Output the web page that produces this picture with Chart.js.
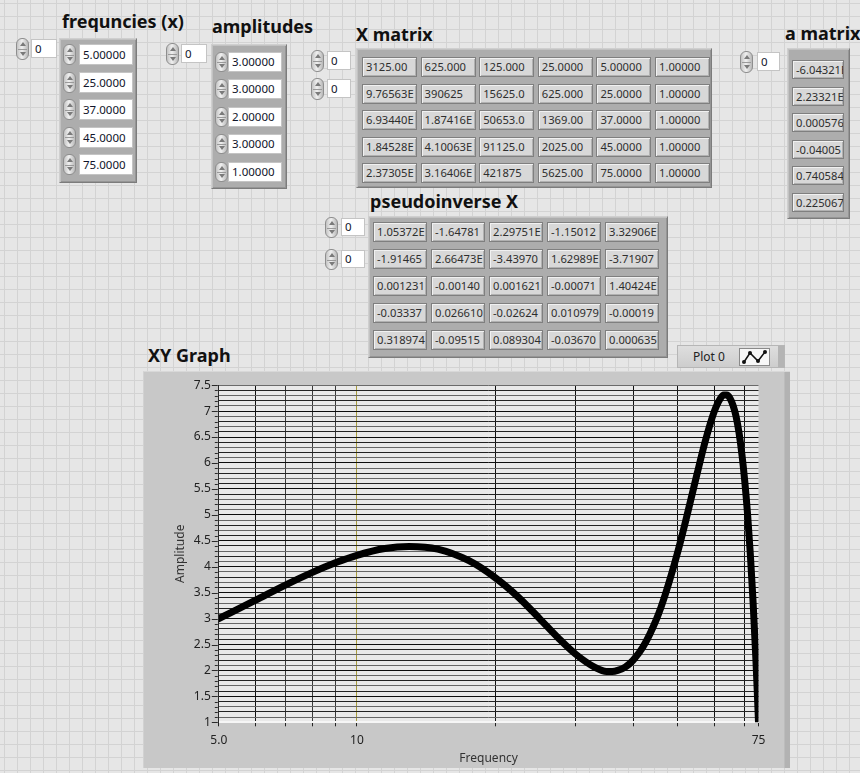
<!DOCTYPE html>
<html>
<head>
<meta charset="utf-8">
<script src="https://cdn.jsdelivr.net/npm/chart.js"></script>
<style>
  html, body { margin: 0; padding: 0; }
  body {
    width: 860px; height: 773px; position: relative; overflow: hidden;
    background-color: #e6e6e6;
    background-image:
      linear-gradient(to right, #d3d3d3 1px, transparent 1px),
      linear-gradient(to bottom, #d3d3d3 1px, transparent 1px);
    background-size: 13px 13px;
    background-position: 4px 3px;
    font-family: 'Noto Sans', sans-serif;
  }
  .lbl { position: absolute; font-weight: bold; font-size: 18px; line-height: 18px; color: #111; white-space: nowrap; }
  .spin {
    position: absolute; width: 13px; box-sizing: border-box;
    border: 1px solid #8e8e8e; border-radius: 6px;
    background: linear-gradient(to right, #c4c4c4, #f0f0f0 45%, #b8b8b8);
  }
  .spin::before, .spin::after {
    content: ''; position: absolute; left: 2.5px; width: 0; height: 0;
    border-left: 3px solid transparent; border-right: 3px solid transparent;
  }
  .spin::before { top: 3px; border-bottom: 4px solid #7a7a7a; }
  .spin::after { bottom: 3px; border-top: 4px solid #7a7a7a; }
  .spin .mid { position: absolute; left: 1px; right: 1px; top: 50%; height: 1px; background: #9a9a9a; }
  .num {
    position: absolute; box-sizing: border-box; background: #fff;
    border: 1px solid #c4c4c4; font-size: 11.5px; color: #10142a;
    padding-left: 3px; white-space: nowrap; overflow: hidden;
  }
  .frame {
    position: absolute; box-sizing: border-box; background: #adadad;
    border: 1px solid; border-color: #cfcfcf #7c7c7c #7c7c7c #cfcfcf;
    box-shadow: inset 1px 1px 0 #c2c2c2, inset -1px -1px 0 #959595;
  }
  .cell {
    position: absolute; box-sizing: border-box; background: #d8d8d8;
    border: 1px solid #7f7f7f;
    box-shadow: inset 1px 1px 0 #f1f1f1, inset -1px -1px 0 #b1b1b1;
    font-size: 11.2px; color: #2e2e2e; padding-left: 3px;
    white-space: nowrap; overflow: hidden;
  }
  #graphFrame {
    position: absolute; left: 143px; top: 371px; width: 647px; height: 397px;
    box-sizing: border-box; background: #c8c8c8;
    border-top: 1px solid #d8d8d8; border-left: 1px solid #d2d2d2;
    box-shadow: inset -5px 0 0 #b2b2b2, inset -6px 0 0 #bcbcbc;
  }
  #chartBox { position: absolute; left: 143px; top: 370px; width: 647px; height: 398px; }
  #legend {
    position: absolute; left: 677px; top: 345px; width: 108px; height: 23px; box-sizing: border-box;
    background: linear-gradient(#dedede, #cdcdcd);
    border: 1px solid #b6b6b6; box-shadow: inset -6px 0 0 #b4b4b4;
  }
  #legend .txt { position: absolute; left: 15px; top: 0; line-height: 21px; font-size: 12px; color: #222; }
  #legend svg { position: absolute; left: 61px; top: 2px; }
</style>
</head>
<body>
<div id="panel"></div>
<div class="lbl" style="left:148px; top:346px;">XY Graph</div>
<div id="legend"><span class="txt">Plot 0</span>
  <svg width="31" height="18" viewBox="0 0 31 18">
    <rect x="0.5" y="0.5" width="30" height="17" fill="#f7f7f7" stroke="#8a8a8a"/>
    <polyline points="5,14 11,5 19,13 26,4" fill="none" stroke="#111" stroke-width="1.5"/>
    <circle cx="5" cy="14" r="2" fill="#111"/><circle cx="11" cy="5" r="2" fill="#111"/>
    <circle cx="19" cy="13" r="2" fill="#111"/><circle cx="26" cy="4" r="2" fill="#111"/>
  </svg>
</div>
<div id="graphFrame"></div>
<div id="chartBox"><canvas id="xy" width="647" height="398"></canvas></div>

<script>
// ---- front panel contents ----
const freqValues = ['5.00000', '25.0000', '37.0000', '45.0000', '75.0000'];
const ampValues = ['3.00000', '3.00000', '2.00000', '3.00000', '1.00000'];
const xMatrixRows = [
  ['3125.00', '625.000', '125.000', '25.0000', '5.00000', '1.00000'],
  ['9.76563E', '390625', '15625.0', '625.000', '25.0000', '1.00000'],
  ['6.93440E', '1.87416E', '50653.0', '1369.00', '37.0000', '1.00000'],
  ['1.84528E', '4.10063E', '91125.0', '2025.00', '45.0000', '1.00000'],
  ['2.37305E', '3.16406E', '421875', '5625.00', '75.0000', '1.00000']
];
const aMatrixValues = ['-6.04321E', '2.23321E', '0.000576', '-0.04005', '0.740584', '0.225067'];
const pinvRows = [
  ['1.05372E', '-1.64781', '2.29751E', '-1.15012', '3.32906E'],
  ['-1.91465', '2.66473E', '-3.43970', '1.62989E', '-3.71907'],
  ['0.001231', '-0.00140', '0.001621', '-0.00071', '1.40424E'],
  ['-0.03337', '0.026610', '-0.02624', '0.010979', '-0.00019'],
  ['0.318974', '-0.09515', '0.089304', '-0.03670', '0.000635']
];

// ---- XY graph data ----
const freqX = [5, 6, 7, 8, 9, 10, 11.5, 13, 15, 17.5, 20, 22.5, 25, 27.5, 30, 33, 35, 36, 37, 38.5,
  40, 42, 45, 47, 50, 52, 55, 57.5, 60, 62, 63, 64, 65, 66, 67, 68, 69, 70, 71, 72, 73, 74, 74.5, 75];
const ampY = [3.00, 3.35, 3.65, 3.89, 4.08, 4.22, 4.35, 4.39, 4.34, 4.12, 3.79, 3.41, 3.00, 2.62, 2.31, 2.06, 1.98, 1.98, 2.00, 2.07,
  2.20, 2.45, 3.00, 3.47, 4.28, 4.87, 5.76, 6.44, 6.98, 7.25, 7.31, 7.31, 7.25, 7.11, 6.90, 6.59, 6.17, 5.65, 5.01, 4.23, 3.31, 2.24, 1.64, 1.00];

const xGridValues = [5, 6, 7, 8, 9, 10, 20, 30, 40, 50, 60, 70, 75];
const xLabelValues = [5, 10, 75];
const xLabelTexts = ['5.0', '10', '75'];
const yLabelValues = [1, 1.5, 2, 2.5, 3, 3.5, 4, 4.5, 5, 5.5, 6, 6.5, 7, 7.5];
const yLabelTexts = ['1', '1.5', '2', '2.5', '3', '3.5', '4', '4.5', '5', '5.5', '6', '6.5', '7', '7.5'];

// ---- panel widgets ----
const panel = document.getElementById('panel');
function el(cls, x, y, w, h, text) {
  const d = document.createElement('div');
  d.className = cls;
  d.style.left = x + 'px'; d.style.top = y + 'px';
  if (w != null) d.style.width = w + 'px';
  if (h != null) { d.style.height = h + 'px'; d.style.lineHeight = (h - 2) + 'px'; }
  if (text != null) d.textContent = text;
  panel.appendChild(d);
  return d;
}
function spinner(x, y, h) {
  const s = el('spin', x, y, null, h);
  const m = document.createElement('div'); m.className = 'mid'; s.appendChild(m);
}
function label(x, y, text) { el('lbl', x, y, null, null, text); }
function indexControl(x, y, bx, bw, h) { spinner(x, y, h + 3); el('num', bx, y + 1, bw, h, '0'); }

// frequencies (x)
label(62, 12, 'frequncies (x)');
indexControl(16, 38, 31, 26, 19);
el('frame', 59, 38, 78, 145);
freqValues.forEach((v, i) => {
  spinner(63, 44 + 27.6 * i, 21);
  el('num', 79, 44 + 27.6 * i, 54, 21, v);
});

// amplitudes
label(212, 17, 'amplitudes');
indexControl(166, 43, 181, 26, 19);
el('frame', 211, 44, 76, 145);
ampValues.forEach((v, i) => {
  spinner(215, 52 + 27.4 * i, 20);
  el('num', 228, 52 + 27.4 * i, 54, 20, v);
});

// X matrix
label(356, 25, 'X matrix');
indexControl(311, 50, 327, 24, 19);
indexControl(311, 78, 327, 24, 19);
el('frame', 356, 48, 356, 140);
xMatrixRows.forEach((row, i) => row.forEach((v, j) => {
  el('cell', 362 + 58.6 * j, 57 + 26.6 * i, 55, 20, v);
}));

// a matrix
label(785, 24, 'a matrix');
indexControl(740, 51, 757, 23, 19);
el('frame', 787, 48, 63, 171);
aMatrixValues.forEach((v, i) => el('cell', 792, 60 + 26.6 * i, 52, 19, v));

// pseudoinverse X
label(370, 192, 'pseudoinverse X');
indexControl(325, 217, 341, 24, 18);
indexControl(325, 249, 341, 24, 18);
el('frame', 368, 216, 300, 142);
pinvRows.forEach((row, i) => row.forEach((v, j) => {
  el('cell', 373 + 58 * j, 222 + 27 * i, 54, 20, v);
}));

// ---- XY graph ----
const yGridValues = [];
for (let k = 0; k <= 65; k++) yGridValues.push(Math.round((1 + k / 10) * 10) / 10);
const isHalf = v => Math.abs(v * 2 - Math.round(v * 2)) < 1e-6;

const plotBackground = {
  id: 'plotBackground',
  beforeDraw(chart) {
    const { ctx, chartArea: a } = chart;
    ctx.save();
    ctx.fillStyle = '#e9e9e9';
    ctx.fillRect(a.left, a.top, a.right - a.left, a.bottom - a.top);
    ctx.restore();
  }
};

const yTickMarks = {
  id: 'yTickMarks',
  afterDraw(chart) {
    const { ctx, chartArea: a } = chart;
    const ys = chart.scales.y;
    ctx.save();
    ctx.strokeStyle = '#2a2a2a';
    ctx.lineWidth = 1;
    ys.ticks.forEach(t => {
      const py = Math.round(ys.getPixelForValue(t.value)) + 0.5;
      const len = isHalf(t.value) ? 6 : 3;
      ctx.beginPath();
      ctx.moveTo(a.left - len - 1, py);
      ctx.lineTo(a.left - 1, py);
      ctx.stroke();
    });
    ctx.restore();
  }
};

new Chart(document.getElementById('xy'), {
  type: 'line',
  data: {
    datasets: [{
      label: 'Plot 0',
      data: freqX.map((x, i) => ({ x: x, y: ampY[i] })),
      borderColor: '#000',
      borderWidth: 7,
      borderCapStyle: 'round',
      borderJoinStyle: 'round',
      pointRadius: 0,
      cubicInterpolationMode: 'monotone',
      fill: false
    }]
  },
  options: {
    responsive: false,
    animation: false,
    devicePixelRatio: 1,
    layout: { padding: { top: 12.7, right: 31.5, left: 0, bottom: 0 } },
    plugins: { legend: { display: false }, tooltip: { enabled: false } },
    scales: {
      x: {
        type: 'logarithmic',
        min: 5, max: 75,
        afterBuildTicks: s => { s.ticks = xGridValues.map(v => ({ value: v })); },
        afterFit: s => { s.height = 45.7; },
        ticks: {
          autoSkip: false, maxRotation: 0, minRotation: 0, padding: 7,
          color: '#222', font: { family: "'Noto Sans', sans-serif", size: 12 },
          callback: v => { const i = xLabelValues.indexOf(v); return i >= 0 ? xLabelTexts[i] : ''; }
        },
        grid: {
          drawTicks: true, tickLength: 4, tickColor: '#222',
          lineWidth: 1,
          color: c => {
            const v = c.tick ? c.tick.value : 0;
            if (v === 5 || v === 75) return 'rgba(0,0,0,0)';
            if (v === 10) return '#a99c3c';
            if (v >= 7 && v <= 9) return '#3a3a3a';
            return '#111';
          }
        },
        border: { display: true, color: '#f6f6f6', width: 2 },
        title: {
          display: true, text: 'Frequency', color: '#333',
          font: { family: "'Noto Sans', sans-serif", size: 12 },
          padding: { top: 0, bottom: 2 }
        }
      },
      y: {
        type: 'linear',
        min: 1, max: 7.5,
        afterBuildTicks: s => { s.ticks = yGridValues.map(v => ({ value: v })); },
        afterFit: s => { s.width = 75.8; },
        ticks: {
          autoSkip: false, padding: 8,
          color: '#222', font: { family: "'Noto Sans', sans-serif", size: 12 },
          callback: v => { const i = yLabelValues.findIndex(u => Math.abs(u - v) < 1e-6); return i >= 0 ? yLabelTexts[i] : ''; }
        },
        grid: {
          drawTicks: false,
          lineWidth: 1,
          color: c => {
            const v = c.tick ? c.tick.value : 0;
            if (Math.abs(v - 7.5) < 1e-6) return '#6a6a6a';
            if (isHalf(v)) return '#0d0d0d';
            return (Math.round(v * 10) % 2 === 0) ? '#222' : '#666';
          }
        },
        border: { display: true, color: '#2a2a2a', width: 1 },
        title: {
          display: true, text: 'Amplitude', color: '#333',
          font: { family: "'Noto Sans', sans-serif", size: 12 },
          padding: { top: 30.8, bottom: 0 }
        }
      }
    }
  },
  plugins: [plotBackground, yTickMarks]
});
</script>
</body>
</html>
